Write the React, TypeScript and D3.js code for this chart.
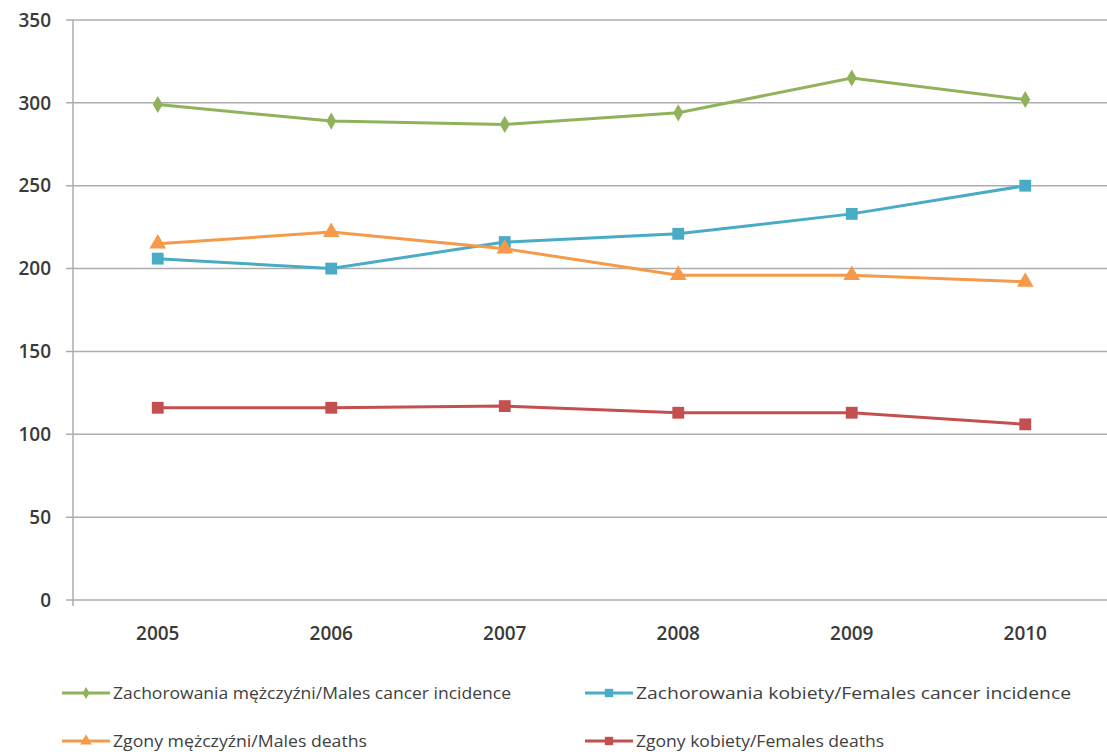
import React from "react";
import * as d3 from "d3";

const years = ["2005", "2006", "2007", "2008", "2009", "2010"];
const malesIncidence = [299, 289, 287, 294, 315, 302];
const femalesIncidence = [206, 200, 216, 221, 233, 250];
const malesDeaths = [215, 222, 212, 196, 196, 192];
const femalesDeaths = [116, 116, 117, 113, 113, 106];
const yTicks = [0, 50, 100, 150, 200, 250, 300, 350];

const seriesNames = [
  "Zachorowania mężczyźni/Males cancer incidence",
  "Zachorowania kobiety/Females cancer incidence",
  "Zgony mężczyźni/Males deaths",
  "Zgony kobiety/Females deaths",
];

type Series = { name: string; values: number[]; color: string; marker: string };

const series: Series[] = [
  { name: seriesNames[0], values: malesIncidence, color: "#8FB25A", marker: "diamond" },
  { name: seriesNames[1], values: femalesIncidence, color: "#4AABC5", marker: "square" },
  { name: seriesNames[2], values: malesDeaths, color: "#F49A4A", marker: "triangle" },
  { name: seriesNames[3], values: femalesDeaths, color: "#C3504F", marker: "square" },
];

const W = 1107;
const H = 754;
const left = 71;
const right = 1112;
const top = 20;
const bottom = 600;

function Marker({ type, x, y, color, size }: { type: string; x: number; y: number; color: string; size: number }) {
  const symType =
    type === "diamond" ? d3.symbolDiamond : type === "triangle" ? d3.symbolTriangle : d3.symbolSquare;
  const path = d3.symbol().type(symType).size(size)() || "";
  return <path d={path} transform={`translate(${x},${y})`} fill={color} />;
}

const markerSize: Record<string, number> = { diamond: 85, square: 140, triangle: 120 };

export default function App() {
  const x = d3.scaleBand<string>().domain(years).range([left, right]);
  const y = d3.scaleLinear().domain([0, 350]).range([bottom, top]);
  const cx = (yr: string) => (x(yr) || 0) + x.bandwidth() / 2;
  const line = d3
    .line<number>()
    .x((_, i) => cx(years[i]))
    .y((d) => y(d));

  const legendItems = [
    { s: series[0], lx: 62, ly: 693, tl: 398 },
    { s: series[1], lx: 585, ly: 693, tl: 435 },
    { s: series[2], lx: 62, ly: 741, tl: 254 },
    { s: series[3], lx: 585, ly: 741, tl: 248 },
  ];

  const font = "'Open Sans', 'Liberation Sans', sans-serif";

  return (
    <svg
      width={W}
      height={H}
      style={{ position: "absolute", left: 0, top: 0, background: "#fff" }}
      fontFamily={font}
    >
      {yTicks.map((t) => (
        <g key={t}>
          <line x1={66} x2={W} y1={y(t)} y2={y(t)} stroke="#ADADAD" strokeWidth={1.5} />
          <text x={51} y={y(t)} dy="0.35em" textAnchor="end" fontSize={19} fill="#3A3A3A" fontWeight={600}>
            {t}
          </text>
        </g>
      ))}
      <line x1={73} x2={73} y1={top} y2={bottom + 6} stroke="#ADADAD" strokeWidth={1.5} />
      {years.map((yr) => (
        <text key={yr} x={cx(yr)} y={633} dy="0.35em" textAnchor="middle" fontSize={19} fill="#3A3A3A" fontWeight={600}>
          {yr}
        </text>
      ))}
      {series.map((s) => (
        <g key={s.name}>
          <path d={line(s.values) || ""} fill="none" stroke={s.color} strokeWidth={3} />
          {s.values.map((v, i) => (
            <Marker key={i} type={s.marker} x={cx(years[i])} y={y(v)} color={s.color} size={markerSize[s.marker]} />
          ))}
        </g>
      ))}
      {legendItems.map(({ s, lx, ly, tl }) => (
        <g key={s.name}>
          <line x1={lx} x2={lx + 48} y1={ly} y2={ly} stroke={s.color} strokeWidth={3} />
          <Marker type={s.marker} x={lx + 24} y={ly} color={s.color} size={markerSize[s.marker] * 0.5} />
          <text x={lx + 51} y={ly} dy="0.35em" fontSize={16} fill="#404040" textLength={tl} lengthAdjust="spacingAndGlyphs">
            {s.name}
          </text>
        </g>
      ))}
    </svg>
  );
}
